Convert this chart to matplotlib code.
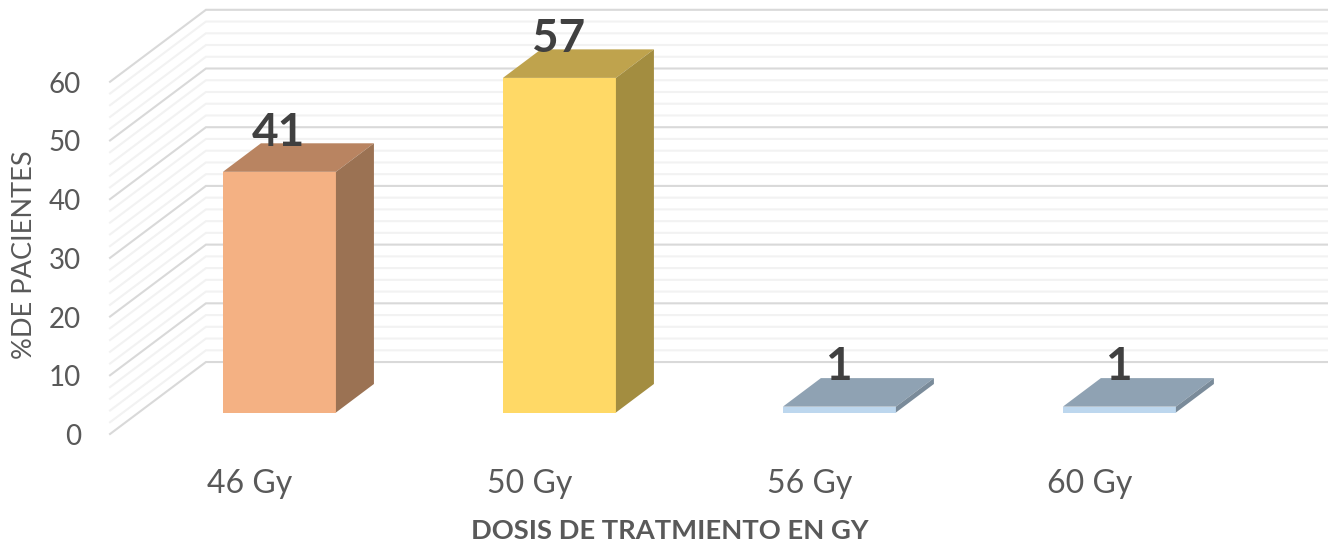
import matplotlib
matplotlib.use("Agg")
import matplotlib.pyplot as plt

categories = ["46 Gy", "50 Gy", "56 Gy", "60 Gy"]
values = [41, 57, 1, 1]
y_ticks = [0, 10, 20, 30, 40, 50, 60]
minor_ticks = list(range(0, 62, 2))

front_colors = ["#F4B183", "#FFD966", "#BDD7EE", "#BDD7EE"]
top_colors = ["#B98461", "#BFA34D", "#8FA2B3", "#8FA2B3"]
side_colors = ["#9B7253", "#A38D40", "#7A8B9A", "#7A8B9A"]

plt.rcParams["font.family"] = ["Lato", "DejaVu Sans"]

fig = plt.figure(figsize=(13.28, 5.48), dpi=100)
ax = fig.add_axes([0, 0, 1, 1])
ax.set_xlim(-0.998, 3.745)
ax.set_ylim(-23.08, 70.27)
ax.axis("off")

# pseudo 3D: profundidad de las barras y del suelo, en unidades de los ejes
bar_w = 0.4036
bar_dx = 0.1357
bar_dy = 4.86
wall_left = -0.605
wall_back = -0.2625
floor_front = -3.66
floor_back = 8.6
right_edge = 3.745

# Rejilla: primero las menores, encima las principales
for v in minor_ticks:
    major = v in y_ticks
    color = "#D9D9D9" if major else "#F2F2F2"
    z = 2 if major else 1
    ax.plot([wall_left, wall_back, right_edge],
            [floor_front + v, floor_back + v, floor_back + v],
            color=color, lw=1.5, zorder=z, solid_joinstyle="miter")

# Barras
for i, val in enumerate(values):
    l = i - bar_w / 2
    r = i + bar_w / 2
    ax.bar(i, val, width=bar_w, color=front_colors[i], zorder=3)
    ax.fill([l, r, r + bar_dx, l + bar_dx],
            [val, val, val + bar_dy, val + bar_dy],
            color=top_colors[i], lw=0, zorder=3)
    ax.fill([r, r + bar_dx, r + bar_dx, r],
            [0, bar_dy, val + bar_dy, val],
            color=side_colors[i], lw=0, zorder=3)
    ax.text(i - 0.004, val + bar_dy - 0.4, str(val), ha="center", va="baseline",
            fontsize=33, fontweight="bold", color="#404040", zorder=4)

# Etiquetas de ejes
for v in y_ticks:
    ax.text(-0.708, floor_front + v - 0.5, str(v), ha="right", va="center",
            fontsize=20, color="#595959")
for i, c in enumerate(categories):
    ax.text(i - 0.105, -12.2, c, ha="center", va="center",
            fontsize=23, color="#595959")

ax.text(-0.91, 26.9, "%DE PACIENTES", rotation=90, ha="center", va="center",
        fontsize=19.5, color="#595959")
ax.text(1.394, -20.2, "DOSIS DE TRATMIENTO EN GY", ha="center", va="center",
        fontsize=19.7, fontweight="bold", color="#595959")

fig.savefig("out.png", dpi=100)
